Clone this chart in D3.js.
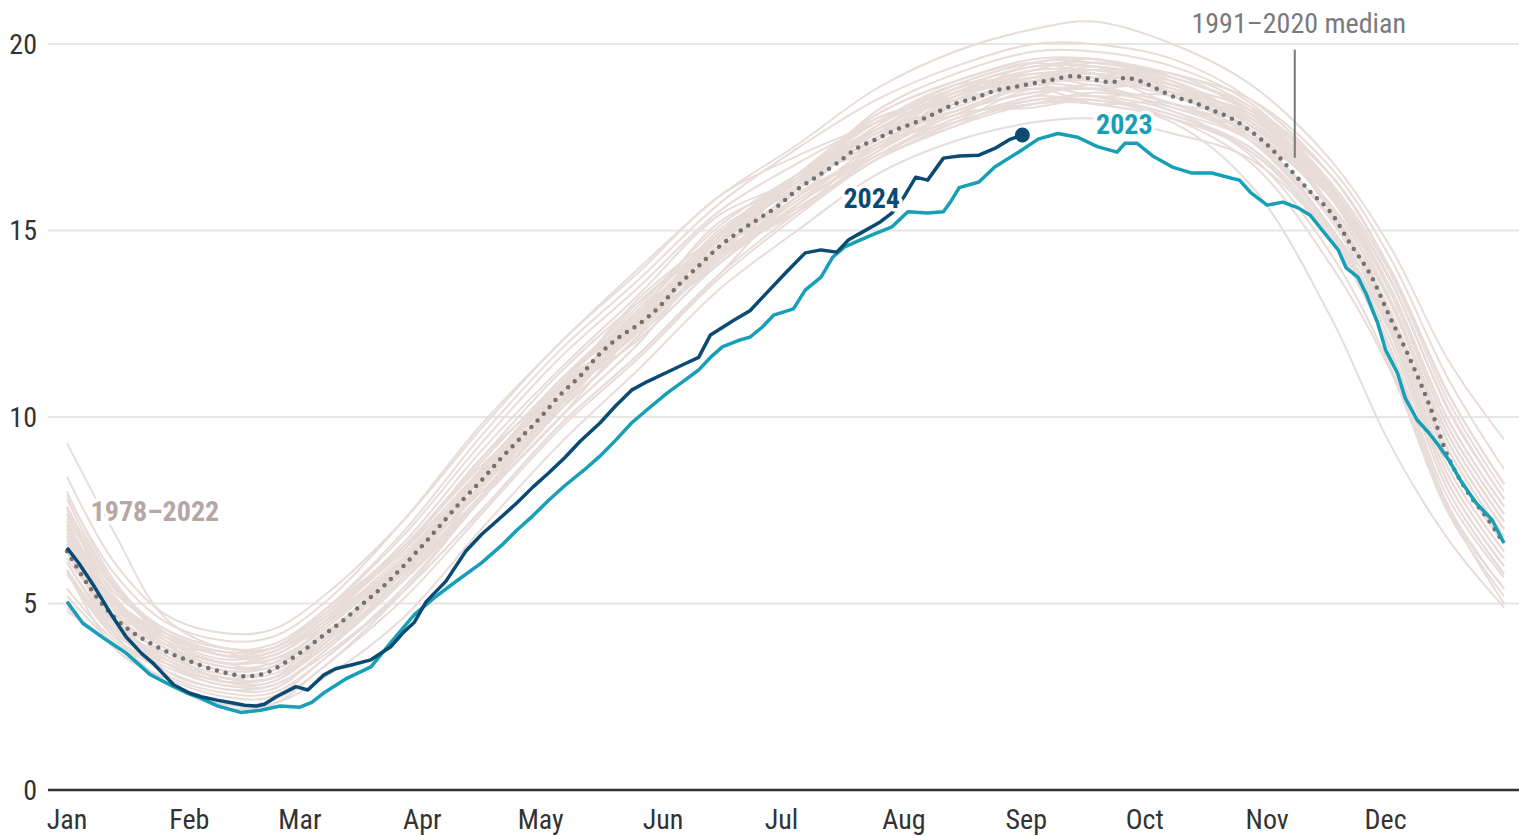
<!DOCTYPE html>
<html>
<head>
<meta charset="utf-8">
<script src="https://cdn.jsdelivr.net/npm/d3@7"></script>
<style>
  body { margin: 0; background: #fff; }
  svg text { font-family: "Roboto Condensed", "Roboto", sans-serif; font-stretch: condensed; }
</style>
</head>
<body>
<div id="chart"></div>
<script>
// Antarctic sea ice extent (million km²) by day of year

// month starts (day of year, 0 = Jan 1) and labels
const monthDays = [0, 31, 59, 90, 120, 151, 181, 212, 243, 273, 304, 334];
const monthLabels = ["Jan", "Feb", "Mar", "Apr", "May", "Jun", "Jul", "Aug", "Sep", "Oct", "Nov", "Dec"];
const yTicks = [0, 5, 10, 15, 20];

// knot days used for the 1978–2022 lines
const knotDays = [0, 12, 25, 40, 52, 65, 85, 105, 125, 145, 165, 185, 205, 225, 245, 260, 280, 300, 320, 335, 350, 364];

const y1978 = [null, null, null, null, null, null, null, null, null, null, null, null, null, null, null, null, null, 18.25, 16.2, 13.75, 10.15, 7.8];
const y1979 = [7.4, 5.4, 4.2, 3.6, 3.8, 4.7, 6.4, 8.9, 10.8, 12.5, 14.8, 16.3, 17.5, 18.7, 19.0, 19.1, 18.9, 17.8, 15.9, 13.2, 9.5, 7.2];
const y1980 = [7.1, 5.3, 4.3, 3.8, 3.8, 4.8, 6.5, 8.7, 10.6, 12.9, 14.9, 16.5, 17.4, 18.7, 19.2, 19.0, 18.9, 17.9, 15.7, 13.1, 9.3, 7.0];
const y1981 = [6.9, 4.9, 3.9, 3.7, 3.4, 4.4, 6.2, 8.5, 10.7, 12.7, 14.4, 16.4, 17.7, 18.7, 18.9, 19.3, 18.9, 17.8, 15.9, 12.8, 8.9, 6.6];
const y1982 = [6.4, 4.6, 3.7, 3.2, 3.3, 4.2, 5.8, 8.6, 10.8, 13.2, 14.9, 16.5, 17.9, 18.5, 19.5, 19.5, 19.1, 18.2, 16.1, 13.5, 9.9, 7.6];
const y1983 = [7.2, 5.1, 4.0, 3.4, 3.3, 4.4, 6.2, 8.4, 11.0, 12.6, 14.7, 16.2, 18.0, 18.5, 19.0, 19.2, 18.7, 17.5, 15.9, 13.2, 9.5, 7.2];
const y1984 = [6.7, 4.6, 3.5, 3.0, 3.0, 3.9, 5.7, 8.4, 10.2, 12.2, 14.3, 16.3, 17.2, 18.2, 18.8, 18.4, 18.4, 17.4, 15.1, 12.3, 8.2, 6.0];
const y1985 = [5.9, 4.2, 3.7, 2.9, 2.9, 3.9, 6.0, 8.5, 10.7, 12.3, 14.8, 16.3, 17.7, 18.7, 19.0, 19.4, 18.9, 18.0, 16.0, 13.4, 9.7, 7.4];
const y1986 = [7.0, 4.9, 3.8, 3.2, 3.3, 4.2, 5.8, 7.9, 10.5, 12.1, 14.1, 15.6, 16.9, 18.1, 18.3, 18.5, 18.0, 17.2, 14.8, 12.4, 8.4, 6.2];
const y1987 = [6.2, 4.7, 4.1, 3.6, 3.6, 4.5, 6.5, 8.3, 10.6, 12.5, 14.2, 16.2, 17.6, 18.6, 19.2, 19.2, 18.4, 18.0, 16.1, 13.5, 9.9, 7.6];
const y1988 = [7.3, 5.4, 4.3, 3.8, 3.8, 4.7, 6.4, 8.6, 10.9, 12.4, 14.8, 16.3, 18.0, 18.5, 19.0, 19.2, 18.7, 18.1, 15.5, 12.8, 8.9, 6.6];
const y1989 = [6.5, 4.5, 3.5, 3.0, 3.0, 4.2, 5.6, 7.8, 10.0, 12.0, 14.5, 15.6, 16.9, 17.9, 18.8, 18.6, 18.1, 17.2, 15.0, 12.1, 8.0, 5.8];
const y1990 = [5.8, 4.1, 3.3, 2.8, 2.8, 3.7, 5.7, 7.8, 10.4, 12.3, 14.3, 15.5, 17.3, 18.2, 18.7, 18.8, 18.8, 17.4, 15.1, 12.3, 8.2, 6.0];
const y1991 = [5.9, 4.2, 3.4, 2.9, 3.0, 3.9, 5.9, 8.4, 10.3, 12.6, 14.6, 16.2, 17.4, 18.8, 19.0, 19.0, 18.6, 17.7, 15.6, 12.5, 9.1, 6.8];
const y1992 = [6.5, 4.5, 3.5, 3.0, 3.0, 4.0, 6.1, 8.2, 10.4, 12.4, 14.9, 16.1, 17.5, 18.4, 18.9, 18.6, 18.6, 17.5, 15.3, 12.4, 8.4, 6.2];
const y1993 = [5.9, 3.8, 3.0, 2.5, 2.5, 3.5, 5.4, 7.8, 10.0, 12.4, 14.1, 15.7, 17.1, 18.1, 18.4, 18.7, 18.3, 17.4, 15.4, 12.6, 8.6, 6.4];
const y1994 = [6.1, 4.4, 3.6, 3.1, 3.2, 4.1, 6.1, 8.2, 10.9, 12.8, 14.8, 16.4, 17.3, 18.6, 19.1, 19.3, 19.2, 18.1, 16.2, 13.7, 10.2, 7.8];
const y1995 = [7.4, 5.2, 3.9, 3.3, 3.4, 4.3, 6.1, 8.4, 11.0, 12.6, 14.7, 15.9, 17.8, 18.8, 19.4, 19.4, 19.0, 17.6, 15.9, 13.2, 9.5, 7.2];
const y1996 = [7.0, 5.0, 4.0, 3.4, 3.5, 4.1, 6.1, 8.2, 10.4, 12.8, 14.5, 16.1, 17.6, 18.2, 19.0, 19.2, 18.7, 17.8, 15.7, 13.1, 9.3, 7.0];
const y1997 = [6.6, 4.4, 3.1, 2.6, 2.6, 3.5, 5.3, 7.5, 9.8, 11.7, 13.8, 15.9, 17.0, 18.0, 18.6, 18.9, 18.2, 17.4, 15.4, 12.6, 8.6, 6.4];
const y1998 = [6.1, 4.3, 3.5, 3.0, 3.0, 4.0, 5.9, 8.1, 10.7, 12.6, 15.0, 16.3, 17.8, 18.8, 19.4, 19.4, 18.6, 17.9, 15.6, 12.9, 9.1, 6.8];
const y1999 = [6.4, 4.4, 3.4, 2.9, 3.0, 3.8, 5.8, 8.2, 10.8, 12.4, 14.5, 15.9, 17.7, 18.2, 18.7, 18.8, 18.4, 17.6, 15.1, 12.7, 8.8, 6.6];
const y2000 = [6.5, 4.7, 3.8, 3.3, 3.3, 4.2, 5.9, 8.1, 10.3, 12.7, 14.3, 15.8, 17.2, 18.1, 18.9, 18.8, 18.3, 17.6, 15.7, 13.1, 9.3, 7.0];
const y2001 = [7.0, 5.1, 4.2, 3.7, 3.8, 4.7, 6.5, 8.9, 11.2, 13.1, 14.7, 16.5, 17.7, 18.3, 19.1, 19.3, 18.8, 17.9, 15.9, 13.2, 9.5, 7.2];
const y2002 = [6.8, 4.6, 3.4, 2.8, 2.9, 3.8, 5.6, 7.9, 10.5, 12.1, 14.1, 15.7, 17.3, 17.9, 18.5, 18.5, 18.1, 17.1, 14.8, 11.8, 7.5, 5.4];
const y2003 = [6.4, 4.9, 4.2, 3.7, 3.8, 4.7, 6.6, 9.1, 11.3, 13.3, 15.4, 16.4, 18.1, 19.0, 19.5, 19.2, 19.2, 18.3, 16.3, 13.9, 10.4, 8.0];
const y2004 = [7.8, 5.5, 4.1, 3.5, 3.7, 4.5, 6.3, 8.5, 10.8, 13.1, 14.8, 16.2, 17.6, 18.1, 19.0, 19.2, 18.7, 17.9, 16.0, 13.4, 9.7, 7.4];
const y2005 = [7.2, 5.1, 4.0, 3.4, 3.6, 4.4, 6.1, 8.5, 10.4, 12.4, 14.5, 16.0, 17.1, 18.4, 18.9, 19.1, 19.0, 17.9, 16.1, 13.5, 9.9, 7.6];
const y2006 = [7.2, 5.0, 3.9, 3.4, 3.5, 4.3, 6.2, 8.5, 10.5, 12.7, 14.7, 16.4, 17.9, 18.9, 19.1, 19.5, 19.1, 18.2, 16.2, 13.7, 10.2, 7.8];
const y2007 = [7.5, 5.5, 4.3, 3.8, 3.8, 4.7, 6.5, 8.8, 11.0, 13.0, 15.1, 16.5, 17.7, 18.7, 19.3, 19.3, 18.9, 18.2, 16.5, 14.0, 10.6, 8.2];
const y2008 = [8.4, 6.1, 4.7, 4.2, 4.3, 5.2, 7.2, 9.7, 12.0, 13.9, 15.9, 17.0, 17.9, 18.9, 19.5, 19.6, 19.1, 18.3, 16.5, 14.0, 10.6, 8.2];
const y2009 = [8.0, 5.6, 4.2, 3.6, 3.7, 4.6, 6.4, 8.6, 10.9, 12.8, 15.2, 16.3, 17.7, 18.6, 19.1, 18.9, 18.8, 17.8, 15.7, 13.1, 9.3, 7.0];
const y2010 = [6.8, 4.8, 3.6, 3.1, 3.1, 4.1, 6.1, 8.6, 10.9, 12.8, 14.8, 16.5, 18.1, 19.0, 19.6, 19.6, 19.2, 18.5, 16.7, 14.3, 11.0, 8.6];
const y2011 = [7.6, 4.9, 3.2, 2.7, 2.7, 3.7, 5.6, 8.1, 10.4, 12.6, 14.3, 15.9, 17.2, 18.5, 18.8, 18.8, 18.4, 17.4, 15.1, 12.3, 8.2, 6.0];
const y2012 = [5.9, 4.3, 3.6, 3.0, 3.2, 4.0, 6.1, 8.4, 10.9, 12.9, 14.9, 16.3, 18.2, 19.2, 19.8, 19.8, 19.4, 18.4, 16.2, 13.7, 10.2, 7.8];
const y2013 = [7.6, 5.5, 4.3, 3.8, 3.8, 4.8, 6.9, 9.5, 11.8, 13.7, 15.7, 17.2, 18.5, 19.4, 20.0, 20.0, 19.6, 18.5, 16.5, 14.0, 10.6, 8.2];
const y2014 = [7.9, 5.8, 4.5, 4.0, 4.1, 5.0, 7.2, 9.8, 12.0, 14.0, 15.9, 17.3, 18.8, 19.8, 20.4, 20.6, 20.0, 18.9, 16.9, 14.6, 11.5, 9.4];
const y2015 = [9.3, 6.9, 4.6, 3.8, 3.9, 4.8, 6.8, 9.3, 11.6, 13.5, 15.5, 16.8, 17.9, 18.8, 19.4, 19.5, 19.0, 17.6, 15.0, 12.1, 8.0, 5.8];
const y2016 = [6.6, 5.0, 4.2, 3.6, 3.7, 4.6, 6.1, 8.0, 10.2, 12.2, 14.2, 15.7, 17.0, 17.9, 18.4, 18.4, 17.9, 16.2, 12.7, 9.3, 6.7, 4.9];
const y2017 = [4.8, 3.9, 2.9, 2.2, 2.3, 3.0, 4.6, 7.0, 9.3, 11.3, 13.4, 15.0, 16.5, 17.4, 17.9, 18.0, 17.6, 16.9, 14.8, 11.9, 7.6, 5.4];
const y2018 = [5.2, 3.9, 2.9, 2.3, 2.4, 3.3, 5.3, 7.8, 10.0, 12.0, 14.4, 15.5, 16.9, 17.8, 18.6, 18.4, 18.0, 17.1, 14.9, 11.9, 7.8, 5.7];
const y2019 = [5.4, 4.0, 3.2, 2.7, 2.8, 3.6, 5.3, 7.5, 9.8, 11.7, 13.8, 15.5, 17.0, 18.0, 18.5, 18.6, 18.2, 17.0, 14.4, 11.4, 7.5, 5.0];
const y2020 = [4.9, 3.9, 3.4, 2.9, 3.0, 3.9, 6.0, 8.5, 10.4, 12.7, 14.8, 16.3, 17.7, 18.7, 19.3, 19.6, 18.9, 18.0, 16.0, 13.4, 9.7, 7.4];
const y2021 = [7.1, 5.1, 4.1, 3.6, 3.6, 4.5, 5.9, 7.9, 10.2, 12.5, 14.1, 15.9, 17.1, 18.5, 19.1, 19.1, 18.7, 18.1, 16.5, 14.0, 10.6, 8.2];
const y2022 = [6.6, 4.2, 2.9, 2.3, 2.3, 3.3, 5.1, 7.4, 9.7, 11.6, 13.7, 15.4, 16.9, 17.8, 18.4, 18.5, 18.0, 16.8, 14.1, 11.3, 7.4, 5.2];

const historical = [y1978, y1979, y1980, y1981, y1982, y1983, y1984, y1985, y1986, y1987, y1988, y1989,
  y1990, y1991, y1992, y1993, y1994, y1995, y1996, y1997, y1998, y1999, y2000, y2001, y2002, y2003,
  y2004, y2005, y2006, y2007, y2008, y2009, y2010, y2011, y2012, y2013, y2014, y2015, y2016, y2017,
  y2018, y2019, y2020, y2021, y2022];

// 1991–2020 median
const medianDays = [0, 5, 10, 15, 20, 25, 30, 35, 40, 45, 50, 55, 60, 65, 70, 75, 80, 85, 90, 95, 100, 105, 110, 115, 120, 125, 130, 135, 140, 145, 150, 155, 160, 165, 170, 175, 180, 185, 190, 195, 200, 205, 210, 215, 220, 225, 230, 235, 240, 245, 250, 255, 260, 265, 268, 272, 276, 280, 285, 290, 295, 300, 305, 310, 315, 320, 325, 330, 335, 340, 345, 350, 355, 360, 364];
const medianValues = [6.4, 5.55, 4.85, 4.35, 4.0, 3.72, 3.5, 3.3, 3.15, 3.05, 3.12, 3.4, 3.75, 4.15, 4.55, 5.0, 5.45, 5.98, 6.55, 7.15, 7.75, 8.3, 8.9, 9.45, 10.0, 10.6, 11.1, 11.7, 12.15, 12.5, 12.95, 13.55, 14.05, 14.55, 14.95, 15.3, 15.65, 16.1, 16.45, 16.8, 17.2, 17.45, 17.7, 17.9, 18.15, 18.4, 18.55, 18.75, 18.85, 18.95, 19.05, 19.14, 19.05, 18.98, 19.09, 19.0, 18.8, 18.6, 18.45, 18.23, 18.0, 17.65, 17.2, 16.62, 16.03, 15.5, 14.65, 13.85, 12.7, 11.6, 10.35, 8.9, 7.95, 7.25, 6.6];

// 2023
const days2023 = [0, 4, 10, 15, 21, 27, 30, 33, 38, 44, 49, 54, 59, 62, 65, 71, 77, 82, 88, 93, 98, 105, 110, 114, 118, 122, 126, 131, 135, 139, 143, 147, 152, 156, 160, 163, 166, 170, 173, 176, 179, 184, 187, 191, 194, 197, 201, 205, 209, 213, 218, 222, 224, 226, 231, 235, 241, 246, 251, 256, 261, 266, 268, 271, 275, 280, 285, 290, 295, 297, 300, 304, 308, 312, 315, 318, 322, 324, 327, 329, 332, 334, 337, 339, 342, 345, 347, 350, 353, 357, 361, 364];
const ext2023 = [5.05, 4.47, 4.02, 3.67, 3.1, 2.77, 2.62, 2.5, 2.26, 2.08, 2.14, 2.25, 2.22, 2.35, 2.6, 3.0, 3.3, 3.95, 4.7, 5.15, 5.55, 6.09, 6.55, 6.97, 7.35, 7.77, 8.15, 8.58, 8.95, 9.38, 9.84, 10.2, 10.64, 10.95, 11.26, 11.6, 11.88, 12.05, 12.14, 12.4, 12.73, 12.9, 13.4, 13.75, 14.29, 14.56, 14.75, 14.93, 15.1, 15.5, 15.47, 15.5, 15.8, 16.15, 16.3, 16.7, 17.1, 17.45, 17.6, 17.5, 17.25, 17.1, 17.34, 17.34, 17.0, 16.7, 16.54, 16.54, 16.4, 16.35, 16.0, 15.68, 15.76, 15.6, 15.4, 15.0, 14.48, 14.0, 13.75, 13.32, 12.52, 11.8, 11.18, 10.5, 9.92, 9.57, 9.3, 8.85, 8.3, 7.69, 7.24, 6.62];

// 2024 (through end of August)
const days2024 = [0, 3, 7, 11, 15, 19, 22, 27, 31, 34, 38, 42, 45, 48, 50, 53, 58, 61, 65, 68, 72, 77, 82, 85, 88, 91, 96, 101, 105, 110, 114, 118, 122, 126, 130, 135, 139, 143, 147, 152, 156, 160, 163, 166, 169, 173, 177, 182, 187, 191, 195, 198, 201, 206, 209, 212, 215, 218, 222, 226, 231, 235, 239, 242];
const ext2024 = [6.49, 6.08, 5.44, 4.74, 4.1, 3.65, 3.38, 2.82, 2.6, 2.5, 2.41, 2.33, 2.27, 2.25, 2.3, 2.5, 2.77, 2.68, 3.08, 3.25, 3.35, 3.49, 3.84, 4.2, 4.5, 5.05, 5.6, 6.4, 6.85, 7.32, 7.7, 8.12, 8.5, 8.9, 9.35, 9.84, 10.3, 10.72, 10.95, 11.2, 11.4, 11.6, 12.2, 12.4, 12.6, 12.85, 13.3, 13.86, 14.4, 14.48, 14.42, 14.75, 14.93, 15.23, 15.47, 15.9, 16.43, 16.35, 16.94, 17.0, 17.02, 17.2, 17.45, 17.56];

const width = 1519, height = 836;
const svg = d3.select("#chart").append("svg")
  .attr("width", width)
  .attr("height", height);

const x = d3.scaleLinear().domain([0, 364]).range([67, 1504]);
const y = d3.scaleLinear().domain([0, 20]).range([790, 44]);

// gridlines
svg.append("g").selectAll("line")
  .data(yTicks.filter(t => t > 0))
  .join("line")
  .attr("x1", 48).attr("x2", width)
  .attr("y1", d => y(d)).attr("y2", d => y(d))
  .attr("stroke", "#e6e6e6").attr("stroke-width", 2);

// y labels
svg.append("g").selectAll("text")
  .data(yTicks)
  .join("text")
  .attr("x", 37).attr("y", d => y(d))
  .attr("text-anchor", "end").attr("dominant-baseline", "central")
  .attr("font-size", 28).attr("fill", "#333")
  .text(d => d);

// month labels
svg.append("g").selectAll("text")
  .data(monthDays)
  .join("text")
  .attr("x", d => x(d)).attr("y", 819)
  .attr("text-anchor", "middle").attr("dominant-baseline", "central")
  .attr("font-size", 28).attr("fill", "#333")
  .text((d, i) => monthLabels[i]);

// historical lines
const lineKnots = d3.line()
  .defined(d => d != null)
  .x((d, i) => x(knotDays[i]))
  .y(d => y(d))
  .curve(d3.curveCatmullRom);

svg.append("g").selectAll("path")
  .data(historical)
  .join("path")
  .attr("d", d => lineKnots(d))
  .attr("fill", "none")
  .attr("stroke", "#e8dcd9")
  .attr("stroke-width", 2);

// median dotted
const lineMedian = d3.line()
  .x((d, i) => x(medianDays[i]))
  .y(d => y(d))
  .curve(d3.curveCatmullRom);

svg.append("path")
  .attr("d", lineMedian(medianValues))
  .attr("fill", "none")
  .attr("stroke", "#727272")
  .attr("stroke-width", 4.5)
  .attr("stroke-linecap", "round")
  .attr("stroke-dasharray", "0 9");

// zero axis line
svg.append("line")
  .attr("x1", 48).attr("x2", width)
  .attr("y1", y(0)).attr("y2", y(0))
  .attr("stroke", "#333").attr("stroke-width", 2.5);

// 2023
svg.append("path")
  .attr("d", d3.line().x((d, i) => x(days2023[i])).y(d => y(d))(ext2023))
  .attr("fill", "none")
  .attr("stroke", "#169fb6")
  .attr("stroke-width", 3.5)
  .attr("stroke-linejoin", "round");

// 2024
svg.append("path")
  .attr("d", d3.line().x((d, i) => x(days2024[i])).y(d => y(d))(ext2024))
  .attr("fill", "none")
  .attr("stroke", "#0a4a73")
  .attr("stroke-width", 3.5)
  .attr("stroke-linejoin", "round");

svg.append("circle")
  .attr("cx", x(days2024[days2024.length - 1]))
  .attr("cy", y(ext2024[ext2024.length - 1]))
  .attr("r", 7.5)
  .attr("fill", "#0a4a73");

// annotation for median
svg.append("line")
  .attr("x1", x(311)).attr("x2", x(311))
  .attr("y1", y(19.85)).attr("y2", y(16.95))
  .attr("stroke", "#777").attr("stroke-width", 2);

svg.append("text")
  .attr("x", x(312)).attr("y", y(20.3))
  .attr("text-anchor", "middle")
  .attr("font-size", 28).attr("fill", "#7a7a7a")
  .text("1991–2020 median");

// series labels with white halo
const labels = [
  { text: "2024", day: 211, val: 15.6, anchor: "end", color: "#0a4a73" },
  { text: "2023", day: 275, val: 17.6, anchor: "end", color: "#169fb6" },
  { text: "1978–2022", day: 6, val: 7.2, anchor: "start", color: "#b4a7a4" }
];
svg.append("g").selectAll("text")
  .data(labels)
  .join("text")
  .attr("x", d => x(d.day)).attr("y", d => y(d.val))
  .attr("text-anchor", d => d.anchor)
  .attr("font-size", 28).attr("font-weight", "bold")
  .attr("fill", d => d.color)
  .attr("stroke", "#fff").attr("stroke-width", 7)
  .attr("stroke-linejoin", "round")
  .attr("paint-order", "stroke")
  .text(d => d.text);
</script>
</body>
</html>
